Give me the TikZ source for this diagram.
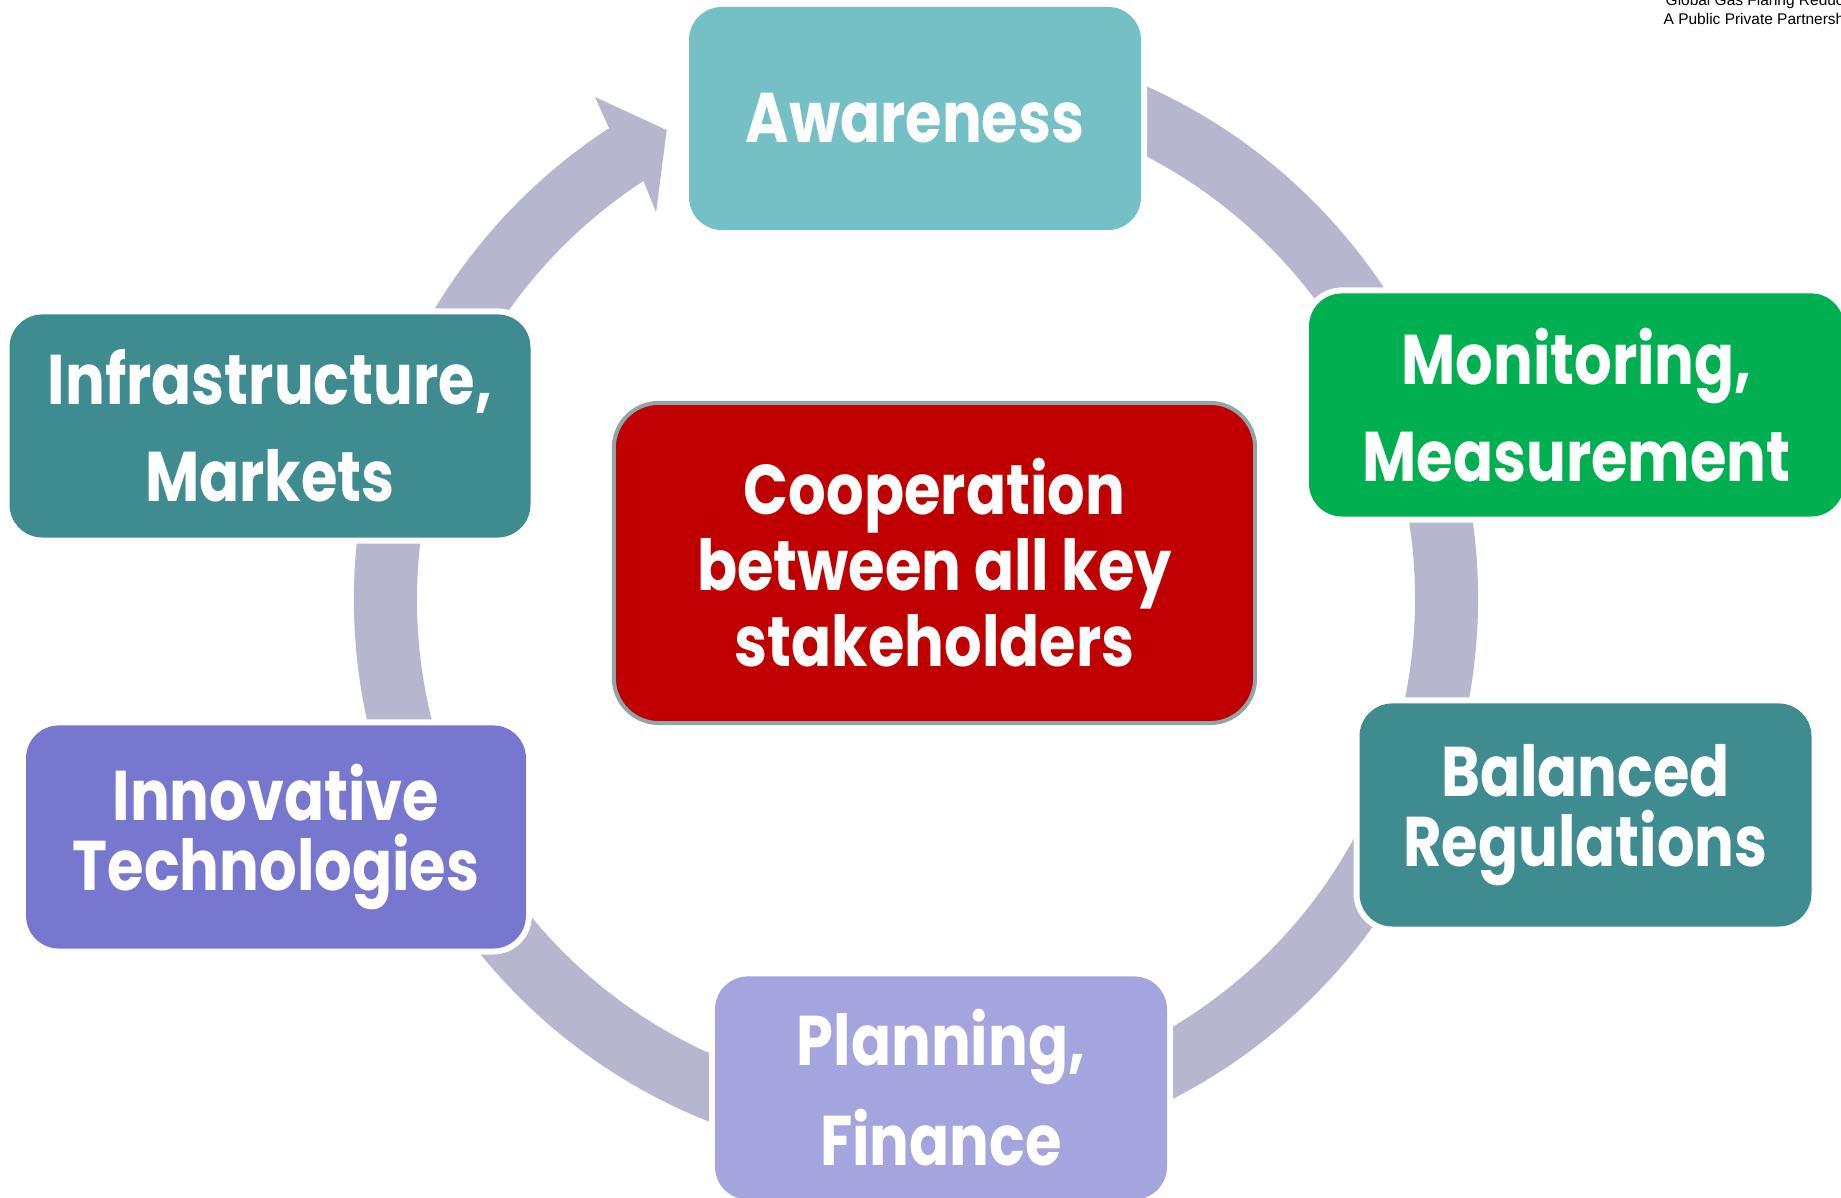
\documentclass[tikz,border=0pt]{standalone}
\usepackage{fontspec}
\setmainfont{Poppins}[BoldFeatures={FakeStretch=0.84}]
\newfontfamily\creditfont{Liberation Sans}

\definecolor{ringgray}{HTML}{B6B6CE}
\definecolor{awarecol}{HTML}{74C0C5}
\definecolor{measurecol}{HTML}{00B050}
\definecolor{tealcol}{HTML}{3F8C90}
\definecolor{plancol}{HTML}{A4A4DE}
\definecolor{innocol}{HTML}{7777D0}
\definecolor{coopcol}{HTML}{C00000}
\definecolor{coopedge}{HTML}{8FA5A8}

\tikzstyle{stage}=[rectangle,rounded corners=0.33cm,minimum height=2.23cm,inner sep=0pt,text=white,align=center,preaction={draw=white,line width=0.12cm}]
\tikzstyle{hub}=[rectangle,rounded corners=0.45cm,minimum width=6.41cm,minimum height=3.2cm,inner sep=0pt,fill=coopcol,draw=coopedge,line width=0.04cm,text=white,align=center,font=\fontsize{20}{21.6}\selectfont\bfseries]
\tikzstyle{cycle arrow}=[fill=ringgray]
\tikzstyle{credit}=[font=\creditfont\fontsize{4.4}{5.4}\selectfont,inner sep=0pt,anchor=base west]

\begin{document}
\begin{tikzpicture}[x=0.01cm,y=0.01cm]
  \useasboundingbox (0,0) rectangle (1841,1198);
  \clip (0,0) rectangle (1841,1198);
  %ring
  \coordinate (ring) at (916,599);
  \begin{scope}[shift={(ring)}]
    \fill[cycle arrow] (80:562) arc[start angle=80,end angle=-236.9,radius=562]
      -- (122.6:596) -- (118:531) -- (123.9:466) -- (123.1:499)
      arc[start angle=-236.9,end angle=80,radius=499] -- cycle;
  \end{scope}
  %stages
  \foreach \nodename/\x/\y/\w/\col/\lead/\txt in {
    aware/915/1079.5/452/awarecol/27.7/Awareness,
    monit/1576.5/793/535/measurecol/27.7/{Monitoring,\\Measurement},
    balan/1585.5/383/452/tealcol/19.9/{Balanced\\Regulations},
    plann/941/110/452/plancol/28.4/{Planning,\\Finance},
    innov/276/361/500/innocol/19.9/{Innovative\\Technologies},
    infra/270/772/521/tealcol/27.7/{Infrastructure,\\Markets}}
  {
    \node[stage,fill=\col,minimum width=\w*0.01cm,font=\fontsize{20}{\lead}\selectfont\bfseries] (\nodename) at (\x,\y) {\txt};
  };
  \node[hub] (coop) at (934.5,635) {Cooperation\\between all key\\stakeholders};
  %logo text
  \node[credit] (ggfr) at (1665,1192) {Global Gas Flaring Reduction};
  \node[credit] (ppp) at (1663,1173) {A Public Private Partnership};
\end{tikzpicture}
\end{document}
